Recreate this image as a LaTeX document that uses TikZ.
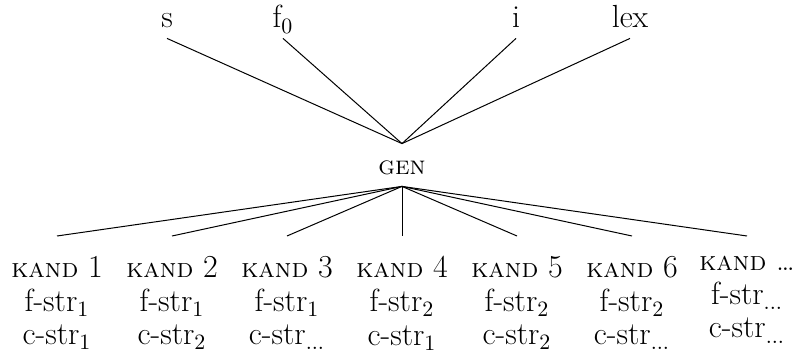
\documentclass[tikz,border=0pt]{standalone}
\usepackage{tikz}

\newcommand{\kandlabel}{{\fontsize{13.5}{16.5}\selectfont\textsc{kand}}}

\begin{document}
\begin{tikzpicture}[
    x=0.5pt,y=-0.5pt,
    input/.style={anchor=base,inner xsep=1pt,inner ysep=4pt,text height=8pt,text depth=1pt,font=\fontsize{16}{16.5}\selectfont},
    generator/.style={anchor=base,inner sep=0pt,text height=15.5pt,text depth=5.5pt,font=\fontsize{13}{16.5}\selectfont\scshape},
    candidate/.style={anchor=north,align=center,inner xsep=1pt,inner ysep=10pt,font=\fontsize{16}{16.8}\selectfont},
    link/.style={line width=0.5pt},
  ]
  \useasboundingbox (0,0) rectangle (803,353);

  \node[input] (s) at (167,28) {s};
  \node[input] (f0) at (283,28) {f$_0$};
  \node[input] (i) at (516,28) {i};
  \node[input] (lex) at (630,28) {lex};

  \node[generator] (gen) at (402,175) {gen};

  \foreach \m in {s,f0,i,lex} {
    \draw[link] (\m.south) -- (gen.north);
  }

  \foreach \k/\f/\c [count=\n] in {1/1/1,2/1/2,3/1/\dots,4/2/1,5/2/2,6/2/\dots,\dots/\dots/\dots} {
    \node[candidate] (kand\n) at ({402+(\n-4)*115},236) {\kandlabel{} \k\\f-str$_{\f}$\\c-str$_{\c}$};
    \draw[link] (gen.south) -- (kand\n.north);
  }

\end{tikzpicture}
\end{document}
